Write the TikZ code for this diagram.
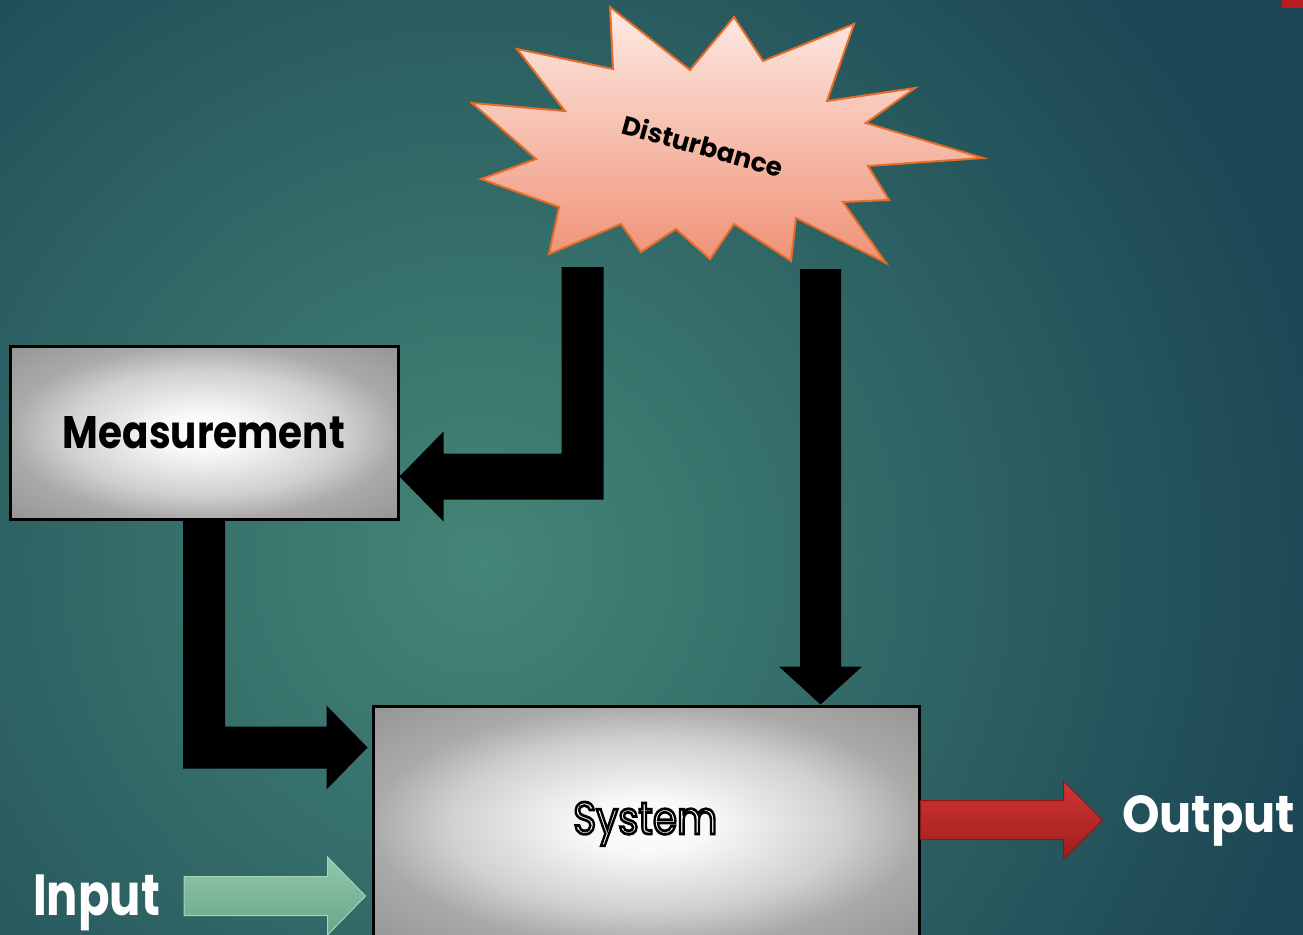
\documentclass[tikz,border=0pt]{standalone}
\usepackage{fontspec}
\setmainfont{Poppins}
\newfontfamily\sysfont[FakeBold=6]{Poppins}
\usepackage{graphicx}
\usetikzlibrary{calc}

\definecolor{bgInner}{RGB}{68,134,119}
\definecolor{bgOuter}{RGB}{28,70,84}
\definecolor{burstTop}{RGB}{253,234,228}
\definecolor{burstBot}{RGB}{239,146,118}
\definecolor{burstLine}{RGB}{230,108,40}
\definecolor{pMid}{RGB}{208,208,208}
\definecolor{pEdge}{RGB}{170,170,170}
\definecolor{pCorner}{RGB}{150,150,150}
\definecolor{inTop}{RGB}{144,200,172}
\definecolor{inBot}{RGB}{106,165,138}
\definecolor{inLine}{RGB}{165,212,186}
\definecolor{outTop}{RGB}{208,54,54}
\definecolor{outBot}{RGB}{160,28,28}
\definecolor{outLine}{RGB}{140,22,22}
\definecolor{tabRed}{RGB}{184,28,28}

% light centre fading to grey at the edges of a block
% (the middle 50bp square of a shading covers the shaded path)
\pgfdeclareradialshading{panelshade}{\pgfpoint{0bp}{0bp}}{%
  color(0bp)=(white); color(6bp)=(white!97!black);
  color(18bp)=(pMid); color(25bp)=(pEdge); color(35bp)=(pCorner);
  color(50bp)=(pCorner)}
% backdrop glow
\pgfdeclareradialshading{glow}{\pgfpoint{0bp}{0bp}}{%
  color(0bp)=(bgInner); color(25bp)=(bgOuter); color(50bp)=(bgOuter)}

\begin{document}
\begin{tikzpicture}[x=0.75pt,y=-0.75pt,
  panel/.style={rectangle, draw=black, line width=2.25pt, shading=panelshade,
    inner sep=0pt},
  burst/.style={draw=burstLine, line width=1.5pt, top color=burstTop,
    bottom color=burstBot, line join=miter, miter limit=20},
  feed/.style={fill=black},
  inArrow/.style={draw=inLine, line width=0.75pt, top color=inTop, bottom color=inBot},
  outArrow/.style={draw=outLine, line width=0.75pt, top color=outTop, bottom color=outBot},
  tagtext/.style={anchor=base west, inner sep=0pt, text=white, font=\bfseries}]

\clip (0,0) rectangle (1303,935);

% backdrop
\fill[bgOuter] (0,0) rectangle (1303,935);
\shade[shading=glow] (480,560) circle[radius=860];
\fill[tabRed] (1282,-2) rectangle (1305,8);

% disturbance burst
\draw[burst] (610,7) -- (613,69) -- (517,49) -- (565,111) -- (472,103) -- (536,159)
  -- (481,179) -- (559,207) -- (549,254) -- (621,224) -- (641,252) -- (676,229)
  -- (710,259) -- (734,224) -- (791,261) -- (796,218) -- (886,263) -- (843,202)
  -- (889,200) -- (868,166) -- (983,158) -- (866,123) -- (915,88) -- (827,101)
  -- (854,24) -- (763,61) -- (734,17) -- (690,70) -- cycle;
\node[rotate=-15.6] (dist) at (703,145.5) {\resizebox{124pt}{!}{\bfseries Disturbance}};

% blocks
\node[panel, minimum width=291pt, minimum height=129.75pt] (meas) at (204,432.5)
  {\resizebox{211.5pt}{24pt}{\bfseries Measurement}};
\node[panel, minimum width=409.5pt, minimum height=178.5pt] (sys) at (646,825) {};
\node[anchor=base west, inner sep=0pt] (systxt) at (573,834)
  {\resizebox{108pt}{24pt}{\sysfont\special{pdf:bcolor [1] [0]}System\special{pdf:ecolor}}};

% feed points and arrow tips
\coordinate (d1) at (582.5,267);
\coordinate (d2) at (820.5,269);
\coordinate (t1) at ($(meas.south east)!0.25!(meas.north east)$);
\coordinate (t2) at (d2 |- sys.north);
\coordinate (t3) at ($(sys.north west)+(-4,43)$);

% disturbance -> measurement
\fill[feed] (t1) -- ++(44,-45) -- ++(0,22) -- ($(d1 |- t1)+(-21,-23)$)
  -- ($(d1)+(-21,0)$) -- ($(d1)+(21,0)$) -- ($(d1 |- t1)+(21,23)$)
  -- ($(t1)+(44,23)$) -- ++(0,22) -- cycle;

% disturbance -> system
\fill[feed] (t2) -- ++(-41.5,-38) -- ++(21,0) -- ($(d2)+(-20.5,0)$)
  -- ($(d2)+(20.5,0)$) -- ($(t2)+(20.5,-38)$) -- ++(21,0) -- cycle;

% measurement -> system
\fill[feed] ($(meas.south)+(-21,0)$) -- ($(meas.south |- t3)+(-21,21)$)
  -- ($(t3)+(-41,21)$) -- ++(0,21) -- (t3) -- ($(t3)+(-41,-42)$) -- ++(0,21)
  -- ($(meas.south |- t3)+(21,-21)$) -- ($(meas.south)+(21,0)$) -- cycle;

% input arrow
\coordinate (inTail) at (184,896);
\coordinate (inTip) at ($(sys.west |- inTail)+(-6,0)$);
\draw[inArrow] ($(inTail)+(0,-19.5)$) -- ($(inTip)+(-38,-19.5)$) -- ++(0,-19.5)
  -- (inTip) -- ($(inTip)+(-38,39)$) -- ++(0,-19.5) -- ($(inTail)+(0,19.5)$) -- cycle;
\node[tagtext] (inLbl) at (33,915) {\resizebox{95pt}{30.5pt}{Input}};

% output arrow
\coordinate (outTail) at ($(sys.east)+(0,-5)$);
\coordinate (outTip) at ($(outTail)+(182,0)$);
\draw[outArrow] ($(outTail)+(0,-19.5)$) -- ($(outTip)+(-39,-19.5)$) -- ++(0,-19.5)
  -- (outTip) -- ($(outTip)+(-39,39)$) -- ++(0,-19.5) -- ($(outTail)+(0,19.5)$) -- cycle;
\node[tagtext] (outLbl) at (1122,832) {\resizebox{129.75pt}{27.75pt}{Output}};

\end{tikzpicture}
\end{document}
